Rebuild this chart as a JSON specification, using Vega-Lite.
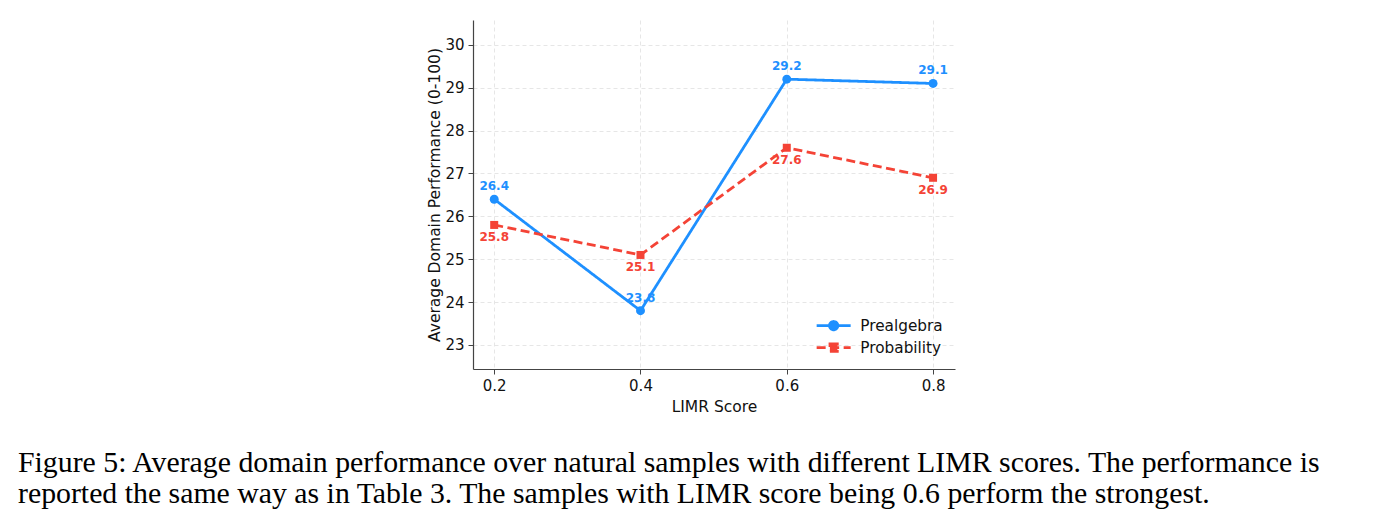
{
  "$schema": "https://vega.github.io/schema/vega-lite/v6.json",
  "width": 482,
  "height": 349,
  "autosize": {"type": "none"},
  "padding": {"left": 473, "top": 20, "right": 429, "bottom": 161},
  "background": "white",
  "title": {
    "text": ["Figure 5: Average domain performance over natural samples with different LIMR scores. The performance is", "reported the same way as in Table 3. The samples with LIMR score being 0.6 perform the strongest."],
    "orient": "bottom",
    "anchor": "start",
    "frame": "group",
    "dx": -455,
    "offset": 33,
    "font": "Liberation Serif",
    "fontSize": 29.8,
    "fontWeight": "normal",
    "color": "#000000",
    "lineHeight": 31
  },
  "config": {
    "view": {"stroke": null},
    "font": "DejaVu Sans",
    "axis": {
      "labelFont": "DejaVu Sans",
      "titleFont": "DejaVu Sans",
      "labelFontSize": 15,
      "titleFontSize": 15.5,
      "titleFontWeight": "normal",
      "labelColor": "#111111",
      "titleColor": "#111111",
      "domainColor": "#444444",
      "tickColor": "#444444",
      "domainWidth": 1.2,
      "tickSize": 5,
      "gridColor": "#e3e3e3",
      "gridDash": [4, 3],
      "gridWidth": 0.9
    }
  },
  "data": {
    "values": [
      {"score": 0.2, "perf": 26.4, "series": "Prealgebra"},
      {"score": 0.4, "perf": 23.8, "series": "Prealgebra"},
      {"score": 0.6, "perf": 29.2, "series": "Prealgebra"},
      {"score": 0.8, "perf": 29.1, "series": "Prealgebra"},
      {"score": 0.2, "perf": 25.8, "series": "Probability"},
      {"score": 0.4, "perf": 25.1, "series": "Probability"},
      {"score": 0.6, "perf": 27.6, "series": "Probability"},
      {"score": 0.8, "perf": 26.9, "series": "Probability"}
    ]
  },
  "encoding": {
    "x": {
      "field": "score",
      "type": "quantitative",
      "title": "LIMR Score",
      "scale": {"domain": [0.171, 0.83], "nice": false, "zero": false},
      "axis": {"values": [0.2, 0.4, 0.6, 0.8], "format": ".1f", "grid": true, "titlePadding": 6, "labelPadding": 4}
    },
    "y": {
      "field": "perf",
      "type": "quantitative",
      "title": "Average Domain Performance (0-100)",
      "scale": {"domain": [22.44, 30.58], "nice": false, "zero": false},
      "axis": {"values": [23, 24, 25, 26, 27, 28, 29, 30], "format": "d", "grid": true, "titlePadding": 2, "labelPadding": 4}
    },
    "color": {
      "field": "series",
      "type": "nominal",
      "scale": {"domain": ["Prealgebra", "Probability"], "range": ["#1E90FF", "#F44336"]},
      "legend": {
        "title": null,
        "orient": "bottom-right",
        "offset": 12,
        "labelFont": "DejaVu Sans",
        "labelFontSize": 15.3,
        "labelColor": "#111111",
        "symbolSize": 100,
        "symbolStrokeWidth": 2.6,
        "labelOffset": 19,
        "rowPadding": 2,
        "encode": {
          "symbols": {
            "update": {
              "shape": {"signal": "datum.value === 'Prealgebra' ? 'M-3.4,0L3.4,0M-0.85,0A0.85,0.85 0 1,0 0.85,0A0.85,0.85 0 1,0 -0.85,0Z' : 'M-3.4,0L3.4,0M-0.75,-0.75L0.75,-0.75L0.75,0.75L-0.75,0.75Z'"},
              "size": {"value": 100},
              "fill": {"signal": "datum.value === 'Prealgebra' ? '#1E90FF' : '#F44336'"},
              "stroke": {"signal": "datum.value === 'Prealgebra' ? '#1E90FF' : '#F44336'"},
              "strokeWidth": {"value": 2.6},
              "strokeDash": {"signal": "datum.value === 'Prealgebra' ? [1,0] : [7,3]"},
              "fillOpacity": {"value": 1},
              "strokeOpacity": {"value": 1},
              "opacity": {"value": 1}
            }
          }
        }
      }
    }
  },
  "layer": [
    {
      "transform": [{"filter": "datum.series === 'Prealgebra'"}],
      "mark": {"type": "text", "dy": -13, "fontSize": 12, "fontWeight": "bold", "font": "DejaVu Sans"},
      "encoding": {"text": {"field": "perf", "type": "quantitative", "format": ".1f"}}
    },
    {
      "transform": [{"filter": "datum.series === 'Probability'"}],
      "mark": {"type": "text", "dy": 12, "fontSize": 12, "fontWeight": "bold", "font": "DejaVu Sans"},
      "encoding": {"text": {"field": "perf", "type": "quantitative", "format": ".1f"}}
    },
    {
      "mark": {"type": "line", "strokeWidth": 2.8},
      "encoding": {
        "strokeDash": {
          "field": "series",
          "type": "nominal",
          "scale": {"domain": ["Prealgebra", "Probability"], "range": [[1, 0], [9, 4.5]]},
          "legend": null
        }
      }
    },
    {
      "transform": [{"filter": "datum.series === 'Prealgebra'"}],
      "mark": {"type": "point", "shape": "circle", "filled": true, "opacity": 1, "size": 80}
    },
    {
      "transform": [{"filter": "datum.series === 'Probability'"}],
      "mark": {"type": "point", "shape": "square", "filled": true, "opacity": 1, "size": 64}
    }
  ]
}
